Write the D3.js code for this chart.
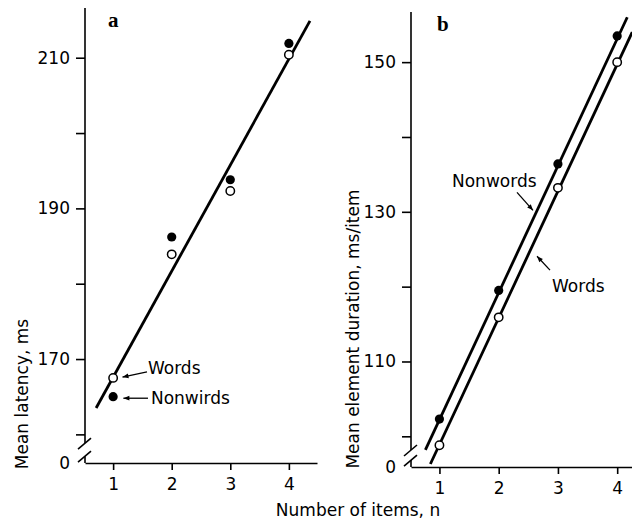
<!DOCTYPE html>
<html>
<head>
<meta charset="utf-8">
<script src="https://cdn.jsdelivr.net/npm/d3@7"></script>
<style>
  body { margin: 0; background: #fff; }
  text { fill: #000; }
</style>
</head>
<body>
<svg id="chart" width="632" height="522" font-family="DejaVu Sans, sans-serif"></svg>
<script>
// ---- data ----
const nItems = [1, 2, 3, 4];
const xTicks = [1, 2, 3, 4];

// panel a: mean latency (ms)
const latencyWords = [167.5, 183.9, 192.3, 210.4];
const latencyNonwords = [165.0, 186.2, 193.8, 211.9];
const latencyFit = [[0.71, 163.5], [4.36, 214.9]];
const latencyTicks = [160, 170, 180, 190, 200, 210];
const latencyLabels = [170, 190, 210];

// panel b: mean element duration (ms/item)
const durationWords = [98.8, 115.9, 133.2, 150.0];
const durationNonwords = [102.3, 119.5, 136.4, 153.5];
const durationFitNonwords = [[0.763, 98.2], [4.17, 156.0]];
const durationFitWords = [[0.847, 96.3], [4.254, 154.0]];
const durationTicks = [100, 110, 120, 130, 140, 150];
const durationLabels = [110, 130, 150];

const svg = d3.select("#chart");

const defs = svg.append("defs");
defs.append("marker")
  .attr("id", "arrow")
  .attr("viewBox", "0 0 10 10")
  .attr("refX", 10).attr("refY", 5)
  .attr("markerWidth", 8).attr("markerHeight", 6)
  .attr("markerUnits", "userSpaceOnUse")
  .attr("orient", "auto")
  .append("path")
  .attr("d", "M0,1L10,5L0,9Z")
  .attr("fill", "#000");

function drawPanel(cfg) {
  const g = svg.append("g");
  const x = d3.scaleLinear().domain(cfg.xExtent).range(cfg.xRange);
  const y = d3.scaleLinear().domain(cfg.yExtent).range(cfg.yRange);
  const x0 = cfg.xRange[0], y0 = cfg.yRange[0];

  // x axis
  const xAxis = g.append("g")
    .attr("transform", "translate(0," + y0 + ")")
    .call(d3.axisBottom(x).tickValues(xTicks).tickFormat(d3.format("d"))
      .tickSize(7).tickPadding(8).tickSizeOuter(0));
  xAxis.attr("font-family", null);
  xAxis.selectAll("text").attr("font-size", 17);
  xAxis.selectAll("path, line").attr("stroke-width", 1.6);

  // y axis (domain drawn by hand because of the break)
  const yAxis = g.append("g")
    .attr("transform", "translate(" + x0 + ",0)")
    .call(d3.axisLeft(y).tickValues(cfg.yTicks)
      .tickFormat(d => cfg.yLabels.includes(d) ? d : "")
      .tickSize(9).tickPadding(6).tickSizeOuter(0));
  yAxis.attr("font-family", null);
  yAxis.select(".domain").remove();
  yAxis.selectAll("text").attr("font-size", 17);
  yAxis.selectAll("line").attr("stroke-width", 1.6);

  const [bLow, bHigh] = cfg.yBreak;
  g.append("line")
    .attr("x1", x0).attr("x2", x0)
    .attr("y1", y(cfg.yExtent[1])).attr("y2", y(bHigh))
    .attr("stroke", "#000").attr("stroke-width", 1.6);
  g.append("line")
    .attr("x1", x0).attr("x2", x0)
    .attr("y1", y(bLow)).attr("y2", y0)
    .attr("stroke", "#000").attr("stroke-width", 1.6);
  // break slashes
  g.selectAll(".brk").data(cfg.yBreak).enter().append("line")
    .attr("x1", x0 - 7).attr("y1", d => y(d) + 6)
    .attr("x2", x0 + 6).attr("y2", d => y(d) - 5)
    .attr("stroke", "#000").attr("stroke-width", 1.6);

  // "0" at the foot of the broken axis
  g.append("text")
    .attr("x", x0 - 15).attr("y", y0)
    .attr("dy", "0.36em")
    .attr("text-anchor", "end")
    .attr("font-size", 17)
    .text("0");

  // fitted lines
  const line = d3.line().x(d => x(d[0])).y(d => y(d[1]));
  cfg.fits.forEach(f => {
    g.append("path")
      .attr("d", line(f))
      .attr("fill", "none")
      .attr("stroke", "#000")
      .attr("stroke-width", 2.8);
  });

  // points
  g.selectAll(".open").data(cfg.open).enter().append("circle")
    .attr("cx", (d, i) => x(nItems[i]))
    .attr("cy", d => y(d))
    .attr("r", 4.2)
    .attr("fill", "#fff")
    .attr("stroke", "#000")
    .attr("stroke-width", 1.5);
  g.selectAll(".filled").data(cfg.filled).enter().append("circle")
    .attr("cx", (d, i) => x(nItems[i]))
    .attr("cy", d => y(d))
    .attr("r", 4.6)
    .attr("fill", "#000");

  // annotations
  cfg.notes.forEach(n => {
    g.append("text")
      .attr("x", x(n.at[0])).attr("y", y(n.at[1]))
      .attr("font-size", 17)
      .text(n.text);
    g.append("line")
      .attr("x1", x(n.arrow[0][0])).attr("y1", y(n.arrow[0][1]))
      .attr("x2", x(n.arrow[1][0])).attr("y2", y(n.arrow[1][1]))
      .attr("stroke", "#000").attr("stroke-width", 1.3)
      .attr("marker-end", "url(#arrow)");
  });

  // panel letter
  g.append("text")
    .attr("x", cfg.letterPos[0]).attr("y", cfg.letterPos[1])
    .attr("font-family", "Liberation Serif, serif")
    .attr("font-weight", "bold")
    .attr("font-size", 21)
    .text(cfg.letter);

  // y title
  g.append("text")
    .attr("transform", "translate(" + cfg.titlePos[0] + "," + cfg.titlePos[1] + ") rotate(-90)")
    .attr("text-anchor", "middle")
    .attr("dy", "0.36em")
    .attr("font-size", 17)
    .text(cfg.title);
}

drawPanel({
  xExtent: [0.52, 4.48], xRange: [85, 317],
  yExtent: [156.2, 216.6], yRange: [463, 8],
  yTicks: latencyTicks, yLabels: latencyLabels,
  yBreak: [157.1, 158.85],
  fits: [latencyFit],
  open: latencyWords, filled: latencyNonwords,
  notes: [
    {text: "Words", at: [1.595, 168.0], arrow: [[1.578, 168.3], [1.16, 167.6]]},
    {text: "Nonwirds", at: [1.646, 164.03], arrow: [[1.595, 164.8], [1.175, 164.8]]}
  ],
  letter: "a", letterPos: [108, 27],
  title: "Mean latency, ms", titlePos: [22, 394]
});

drawPanel({
  xExtent: [0.52, 4.25], xRange: [411, 632],
  yExtent: [95.9, 156.7], yRange: [467, 12],
  yTicks: durationTicks, yLabels: durationLabels,
  yBreak: [96.83, 98.17],
  fits: [durationFitNonwords, durationFitWords],
  open: durationWords, filled: durationNonwords,
  notes: [
    {text: "Nonwords", at: [1.212, 133.28], arrow: [[2.309, 132.6], [2.579, 130.2]]},
    {text: "Words", at: [2.900, 119.26], arrow: [[2.866, 122.2], [2.647, 124.07]]}
  ],
  letter: "b", letterPos: [437, 31],
  title: "Mean element duration, ms/item", titlePos: [353, 329]
});

// shared x title
svg.append("text")
  .attr("x", 358).attr("y", 516)
  .attr("text-anchor", "middle")
  .attr("font-size", 17)
  .text("Number of items, n");
</script>
</body>
</html>
